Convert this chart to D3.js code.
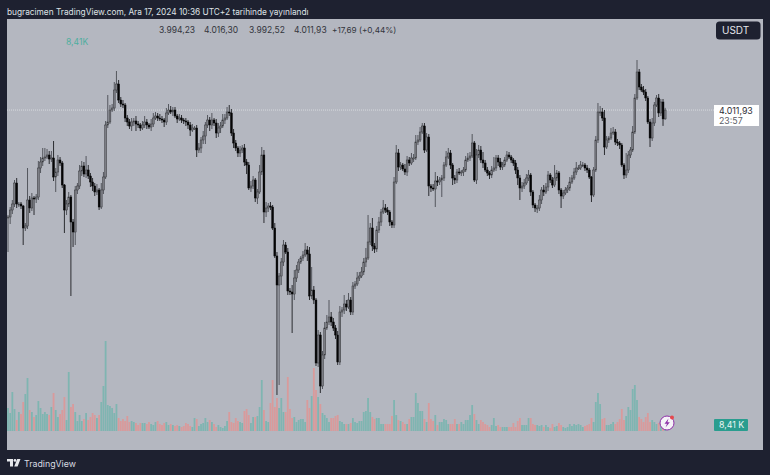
<!DOCTYPE html>
<html>
<head>
<meta charset="utf-8">
<script src="https://cdn.jsdelivr.net/npm/d3@7"></script>
<style>
  html, body { margin: 0; padding: 0; background: #1e2130; }
  svg { display: block; font-family: Inter, "Liberation Sans", sans-serif; }
</style>
</head>
<body>
<div id="chart"></div>
<script>
// close price of every candle
const closes = [
  3798,3812,3824,3866,3824,3824,3820,3776,3780,3832,3816,3836,3834,3838,3896,3908,3916,3918,3922,3914,
  3916,3878,3888,3912,3906,3862,3812,3824,3838,3788,3768,3852,3860,3890,3900,3884,3892,3880,3868,3860,
  3848,3852,3818,3852,3878,3982,3988,4012,4016,4052,4064,4032,4024,4022,3996,3988,3980,3988,3990,3984,
  3982,3976,3982,3988,3982,3978,3984,3996,4000,3996,3994,3992,3988,4006,4012,4008,4012,4000,3994,3996,
  3992,3990,3988,3982,3972,3976,3976,3932,3936,3952,3960,3982,3992,3982,3992,3986,3966,3976,3980,3992,
  3996,4008,4006,3966,3946,3936,3926,3932,3936,3908,3902,3856,3860,3872,3836,3848,3888,3922,3808,3816,
  3820,3818,3776,3720,3662,3680,3708,3742,3728,3650,3648,3644,3676,3692,3708,3716,3722,3732,3724,3640,
  3652,3632,3506,3562,3460,3522,3576,3588,3598,3588,3576,3562,3508,3608,3612,3624,3618,3632,3608,3660,
  3664,3676,3680,3688,3708,3716,3748,3776,3740,3734,3772,3788,3808,3816,3812,3808,3788,3782,3868,3926,
  3898,3902,3894,3888,3912,3906,3916,3916,3948,3952,3968,3980,3932,3958,3860,3856,3854,3870,3868,3872,
  3876,3902,3918,3926,3902,3876,3872,3888,3886,3888,3892,3912,3916,3920,3946,3872,3922,3932,3912,3906,
  3892,3886,3882,3892,3896,3916,3908,3898,3902,3912,3922,3918,3912,3906,3892,3876,3856,3860,3866,3876,
  3882,3848,3822,3816,3816,3832,3852,3848,3858,3882,3872,3862,3876,3886,3852,3840,3846,3852,3856,3868,
  3876,3888,3896,3896,3902,3902,3896,3892,3878,3842,3892,3952,4008,4008,3996,3938,3952,3956,3966,3968,
  3948,3946,3942,3902,3882,3892,3922,3932,3968,4036,4088,4058,4052,4048,4036,3988,3956,3986,4022,4036,
  4006,4028,3994.23,4011.93
];

// wick lengths above and below the body, in USD
const upperWicks = [
  4,6,8,6,10,4,4,2,6,64,8,10,4,6,14,10,20,18,12,8,
  14,34,8,10,6,4,2,8,10,4,6,8,6,12,10,8,28,10,6,8,
  6,12,4,14,10,8,54,10,8,16,26,8,6,8,4,6,6,8,6,10,
  6,4,8,12,6,4,10,10,8,6,8,6,4,10,12,8,6,6,4,8,
  6,4,6,4,6,8,4,6,10,6,10,6,10,6,14,4,8,10,8,12,
  8,10,14,8,8,6,4,8,6,8,6,6,10,8,4,6,14,16,10,12,
  6,8,4,10,8,6,8,10,6,8,6,14,16,10,6,4,8,14,8,14,
  46,8,4,10,6,8,12,14,34,10,8,6,8,12,6,18,8,14,6,8,
  6,12,8,10,8,20,54,10,20,6,8,10,6,16,8,6,4,4,10,16,
  8,6,4,10,8,6,10,8,14,10,10,6,6,8,6,4,8,18,10,6,
  6,6,12,10,6,4,6,6,8,4,6,8,10,8,18,4,12,10,8,16,
  6,6,4,8,22,6,6,8,6,6,8,6,4,4,6,6,6,8,8,8,
  10,4,4,4,6,10,6,10,8,8,4,6,26,6,4,4,6,6,6,10,
  6,8,12,6,8,6,4,6,4,2,6,8,18,12,8,16,8,4,10,10,
  6,6,4,4,4,34,8,6,12,8,24,6,6,8,6,4,6,10,6,6,
  8,6,6,4.37
];
const lowerWicks = [
  70,14,8,6,8,6,6,34,6,6,10,6,32,8,6,10,8,6,4,10,
  6,8,30,8,6,6,46,10,6,148,30,26,8,6,10,6,8,6,10,10,
  8,6,6,4,8,4,6,4,4,6,6,6,6,6,8,8,6,10,8,14,
  6,6,4,6,8,4,8,6,4,6,4,6,10,6,4,4,8,4,8,4,
  6,6,8,8,12,4,4,14,6,10,8,16,6,12,8,6,10,8,10,4,
  8,4,6,6,10,6,8,8,6,8,18,4,8,6,8,12,4,6,22,10,
  8,6,4,4,220,200,18,8,4,8,6,78,12,8,6,4,6,4,14,8,
  6,8,6,8,14,6,8,4,6,8,6,8,6,6,10,8,8,4,6,6,
  6,4,6,4,6,10,4,6,10,8,6,6,8,4,6,6,8,6,6,4,
  8,6,4,6,8,6,4,8,4,6,4,4,6,4,20,8,4,36,8,6,
  34,6,4,4,8,14,8,6,4,6,8,4,4,6,4,4,8,6,6,10,
  4,6,8,6,4,6,8,6,6,4,4,4,6,6,8,14,24,8,6,4,
  6,8,6,8,10,6,8,8,4,8,6,6,4,6,8,24,6,4,6,6,
  4,4,6,4,4,4,6,6,4,14,4,4,6,8,6,16,4,6,4,4,
  6,6,8,4,8,6,6,6,4,4,4,6,4,6,6,4,18,6,6,4,
  8,6,14,1.71
];

// volume in thousands
const volumes = [
  23,18,39,22,11,19,17,29,37,53,21,19,14,16,30,23,17,19,17,16,
  24,38,21,14,17,21,34,11,59,24,27,19,10,16,10,12,18,11,14,18,
  16,13,16,29,45,90,26,25,23,18,27,13,10,12,10,15,9,10,9,8,
  6,8,8,8,7,9,7,6,9,10,7,6,8,9,6,7,6,5,6,5,
  4,5,8,7,5,4,13,12,5,7,8,13,9,11,9,7,4,6,4,3,
  5,10,19,9,8,13,10,9,8,20,22,16,8,14,14,15,24,51,21,10,
  9,28,51,24,33,23,33,19,19,54,22,13,14,9,11,12,12,9,31,23,
  35,63,41,34,27,18,16,13,9,13,13,15,16,10,9,7,7,7,8,13,
  9,8,10,10,19,20,33,19,14,12,13,13,7,7,7,7,7,15,31,16,
  11,10,9,7,7,12,14,14,38,28,20,20,12,9,28,12,10,16,6,9,
  9,12,11,7,7,7,12,7,7,9,7,11,11,16,26,17,11,7,11,9,
  7,6,4,6,13,5,6,4,4,4,4,4,4,8,4,10,13,6,6,6,
  13,13,7,6,6,5,6,4,6,4,3,7,4,5,8,6,4,3,4,7,
  5,7,6,7,6,4,5,6,7,13,9,29,38,27,12,13,6,6,7,9,
  7,9,12,22,11,15,24,21,42,46,31,14,12,9,14,18,9,11,9,7,
  8,7,6,8.41
];

const legendValues = ['3.994,23', '4.016,30', '3.992,52', '4.011,93'];
const legendChange = '+17,69 (+0,44%)';
const lastPrice = 4011.93;

const width = 770, height = 475;
const panel = { left: 7, right: 763, top: 19, bottom: 450 };
const bg = '#1e2130', panelColor = '#b4b7c0';

const svg = d3.select('#chart').append('svg').attr('width', width).attr('height', height);

svg.append('rect').attr('width', width).attr('height', height).attr('fill', bg);
svg.append('rect')
  .attr('x', panel.left).attr('y', panel.top)
  .attr('width', panel.right - panel.left).attr('height', panel.bottom - panel.top)
  .attr('fill', panelColor);

const x = d3.scaleLinear().domain([0, closes.length - 1]).range([8, 665.2]);
const y = d3.scaleLinear().domain([3452, 4112]).range([390, 60]);
const yVol = d3.scaleLinear().domain([0, 90]).range([431, 341]);

const candles = closes.map((c, i) => {
  const open = i === 0 ? c : closes[i - 1];
  return {
    i,
    open,
    close: c,
    high: Math.max(open, c) + upperWicks[i],
    low: Math.min(open, c) - lowerWicks[i],
    volume: volumes[i]
  };
});

// volume bars
svg.append('g').selectAll('rect').data(candles).join('rect')
  .attr('x', d => x(d.i) - 0.9)
  .attr('width', 1.8)
  .attr('y', d => yVol(d.volume))
  .attr('height', d => yVol(0) - yVol(d.volume))
  .attr('fill', d => d.close >= d.open ? '#7fb5b1' : '#d99a9b');

// last price line
svg.append('line')
  .attr('x1', panel.left).attr('x2', 714)
  .attr('y1', y(lastPrice)).attr('y2', y(lastPrice))
  .attr('stroke', '#e6e8ec').attr('stroke-width', 1).attr('stroke-opacity', 0.7).attr('stroke-dasharray', '1 1');

// wicks
svg.append('g').selectAll('line').data(candles).join('line')
  .attr('x1', d => x(d.i)).attr('x2', d => x(d.i))
  .attr('y1', d => y(d.high)).attr('y2', d => y(d.low))
  .attr('stroke', d => d.close >= d.open ? '#4a4c52' : '#1c1d20')
  .attr('stroke-width', 0.9);

// bodies, hollow when the candle closed up
svg.append('g').selectAll('rect').data(candles).join('rect')
  .attr('x', d => x(d.i) - 0.9)
  .attr('width', 1.8)
  .attr('y', d => y(Math.max(d.open, d.close)))
  .attr('height', d => Math.max(1, Math.abs(y(d.open) - y(d.close))))
  .attr('fill', d => d.close >= d.open ? '#7c7e85' : '#050506')
  .attr('stroke', d => d.close >= d.open ? '#36373b' : '#050506')
  .attr('stroke-width', 0.5);

// header and legend text
svg.append('text').attr('x', 7).attr('y', 14.5)
  .attr('font-size', 8.3).attr('fill', '#dfe1e6')
  .text('bugracimen TradingView.com, Ara 17, 2024 10:36 UTC+2 tarihinde yayınlandı');

const legendX = [159, 204, 249, 294];
svg.append('g').selectAll('text').data(legendValues).join('text')
  .attr('x', (d, i) => legendX[i]).attr('y', 33)
  .attr('font-size', 8.5).attr('fill', '#33353c')
  .text(d => d);
svg.append('text').attr('x', 332).attr('y', 33)
  .attr('font-size', 8.2).attr('fill', '#33353c').text(legendChange);
svg.append('text').attr('x', 66).attr('y', 45)
  .attr('font-size', 8.6).attr('fill', '#4fae9f').text('8,41K');

// USDT button
svg.append('rect').attr('x', 716).attr('y', 21.5).attr('width', 44.5).attr('height', 18).attr('rx', 3.5).attr('fill', bg);
svg.append('text').attr('x', 722).attr('y', 34).attr('font-size', 10).attr('fill', '#e4e6ea').text('USDT');

// price tag
svg.append('rect').attr('x', 714).attr('y', 105).attr('width', 45).attr('height', 21).attr('fill', '#fff');
svg.append('text').attr('x', 719).attr('y', 113.5).attr('font-size', 8.8).attr('fill', '#2c2e35').text('4.011,93');
svg.append('text').attr('x', 719).attr('y', 123.5).attr('font-size', 8.8).attr('fill', '#5b5e66').text('23:57');

// volume tag
svg.append('rect').attr('x', 714).attr('y', 419).attr('width', 34).attr('height', 12).attr('rx', 1).attr('fill', '#2a9d8f');
svg.append('text').attr('x', 719).attr('y', 428).attr('font-size', 8.8).attr('fill', '#eef5f4').text('8,41 K');

// lightning badge
svg.append('circle').attr('cx', 667).attr('cy', 423).attr('r', 7).attr('fill', '#f5f2f8').attr('stroke', '#8e2fa8').attr('stroke-width', 1);
svg.append('path').attr('d', 'M668.5 418.5 L664.5 423.8 L667 423.8 L665.5 427.5 L669.8 422.2 L667.4 422.2 Z').attr('fill', '#8e2fa8');
svg.append('circle').attr('cx', 672).attr('cy', 417.5).attr('r', 2).attr('fill', '#e5484d');

// footer logo
svg.append('path')
  .attr('d', 'M7 459 H13 V466.5 H10 V461.6 H7 Z M17.2 459 H20.5 L17.6 466.5 H14.2 Z')
  .attr('fill', '#e6e8ec');
svg.append('circle').attr('cx', 15).attr('cy', 460.4).attr('r', 1.4).attr('fill', '#e6e8ec');
svg.append('text').attr('x', 24).attr('y', 467).attr('font-size', 8.8).attr('fill', '#d8dae0').text('TradingView');
</script>
</body>
</html>
